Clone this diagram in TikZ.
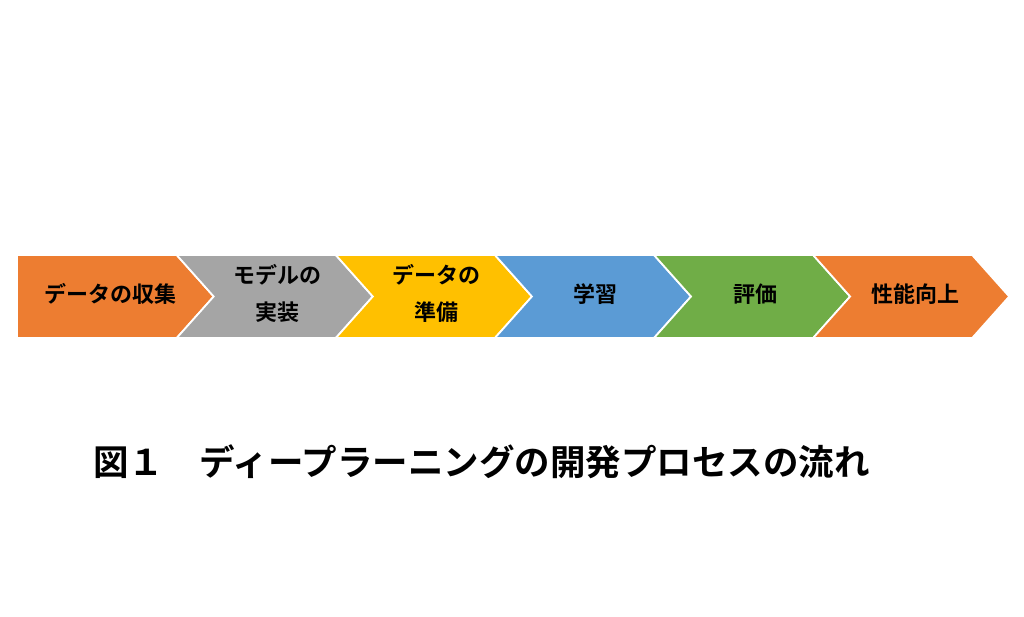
\documentclass[tikz,border=0pt]{standalone}
\usepackage{fontspec}
\setmainfont{Noto Sans CJK JP}[BoldFont={Noto Sans CJK JP Bold}]
\definecolor{cOrange}{HTML}{ED7D31}
\definecolor{cGray}{HTML}{A5A5A5}
\definecolor{cYellow}{HTML}{FFC000}
\definecolor{cBlue}{HTML}{5B9BD5}
\definecolor{cGreen}{HTML}{70AD47}
\tikzset{
  chev/.style={draw=white, line width=1.8pt, line join=miter},
  lbl/.style={font=\bfseries\fontsize{22}{37}\selectfont, align=center, inner sep=0pt, text=black},
  captiontext/.style={font=\bfseries\fontsize{35.5}{40}\selectfont, inner sep=0pt, anchor=west, text=black}
}
\begin{document}
\begin{tikzpicture}[x=1pt,y=-1pt]
\useasboundingbox (0,0) rectangle (1024,616);
\fill[white] (0,0) rectangle (1024,616);
% geometry
\def\T{255}\def\B{338}\def\M{296.5}\def\D{37}
% shape 0 (flat left)
\filldraw[chev, fill=cOrange] (17,\T) -- (176.7,\T) -- (213.7,\M) -- (176.7,\B) -- (17,\B) -- cycle;
% shapes 1..5
\foreach \i/\c in {1/cGray,2/cYellow,3/cBlue,4/cGreen,5/cOrange}{
  \pgfmathsetmacro\L{176.7+159.1*(\i-1)}
  \pgfmathsetmacro\R{176.7+159.1*\i}
  \filldraw[chev, fill=\c] (\L,\T) -- (\R,\T) -- ({\R+\D},\M) -- (\R,\B) -- (\L,\B) -- ({\L+\D},\M) -- cycle;
}
\node[lbl] (s1) at (110,294) {データの収集};
\node[lbl] (s2) at (277,293) {モデルの\\実装};
\node[lbl] (s3) at (436,293) {データの\\準備};
\node[lbl] (s4) at (595,294) {学習};
\node[lbl] (s5) at (755,294) {評価};
\node[lbl] (s6) at (915,294) {性能向上};
\node[captiontext] (caption) at (93,462) {図１　ディープラーニングの開発プロセスの流れ};
\end{tikzpicture}
\end{document}
